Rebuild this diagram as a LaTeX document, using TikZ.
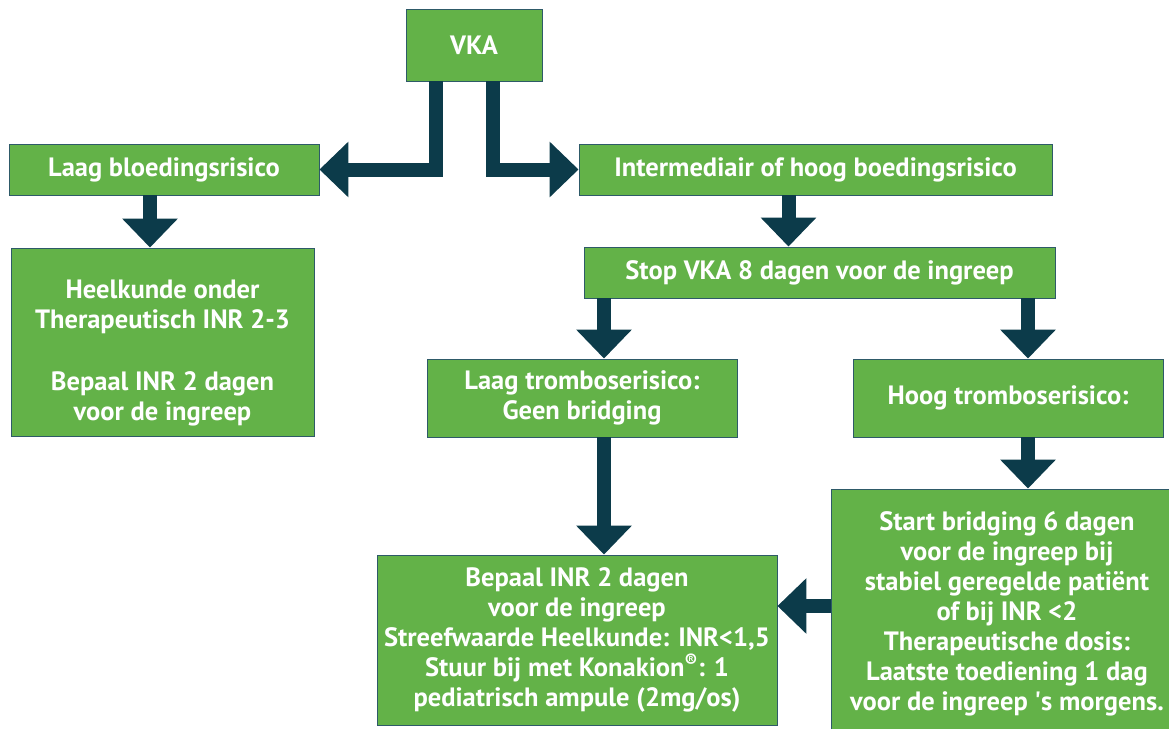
\documentclass[tikz,border=0pt]{standalone}
\usepackage{fontspec}
\setmainfont{PT Sans}
\usetikzlibrary{arrows.meta,positioning,calc}

\definecolor{vakgroen}{RGB}{99,178,72}
\definecolor{randkleur}{RGB}{46,90,104}
\definecolor{pijlkleur}{RGB}{12,59,74}

\begin{document}
\begin{tikzpicture}[x=1pt,y=-1pt,
    vak/.style={draw=randkleur,line width=0.9pt,fill=vakgroen,text=white,
      font=\fontsize{26.5}{30}\selectfont\bfseries,align=center,inner sep=0pt},
    pijl/.style={draw=pijlkleur,line width=14pt,
      -{Triangle[width=54pt,length=29pt]}}]
      \clip (0,0) rectangle (1169,728);
      \useasboundingbox (0,0) rectangle (1169,728);

      \node[vak,minimum width=136pt,minimum height=72pt] (vka) at (474,45) {VKA};
      \node[vak,minimum width=310pt,minimum height=51pt] (laagb) at (164,169.5) {Laag bloedingsrisico};
      \node[vak,minimum width=473pt,minimum height=51pt] (inter) at (815.5,169.5) {Intermediair of hoog boedingsrisico};
      \node[vak,minimum width=471pt,minimum height=51pt] (stop) at (819.5,272.5) {Stop VKA 8 dagen voor de ingreep};
      \node[vak,minimum width=303pt,minimum height=188pt] (heel) at (162.5,342)
        {\rule{0pt}{40pt}Heelkunde onder\\Therapeutisch INR 2-3\\[32pt]Bepaal INR 2 dagen\\voor de ingreep};
      \node[vak,minimum width=310pt,minimum height=78pt] (lt) at (582,398) {Laag tromboserisico:\\Geen bridging};
      \node[vak,minimum width=310pt,minimum height=78pt] (ht) at (1008,398) {Hoog tromboserisico:};
      \node[vak,minimum width=400pt,minimum height=170pt] (bep) at (577,640)
        {Bepaal INR 2 dagen\\voor de ingreep\\Streefwaarde Heelkunde: INR<1,5\\
         Stuur bij met Konakion\textsuperscript{®}: 1\\pediatrisch ampule (2mg/os)};
      \node[vak,minimum width=352pt,minimum height=250pt] (start) at (1007,614)
        {Start bridging 6 dagen\\voor de ingreep bij\\stabiel geregelde patiënt\\of bij INR <2\\
         Therapeutische dosis:\\Laatste toediening 1 dag\\voor de ingreep \textquotesingle s morgens.};

      % splitsing onder VKA
      \draw[pijl] ([xshift=-38pt]vka.south) |- (laagb.east);
      \draw[pijl] ([xshift=19pt]vka.south) |- (inter.west);

      \draw[pijl] ([xshift=-14pt]laagb.south) -- ([xshift=-14pt]laagb.south |- heel.north);
      \draw[pijl] ([xshift=-27pt]inter.south) -- ([xshift=-27pt]inter.south |- stop.north);
      \draw[pijl] ([xshift=22pt]lt.north |- stop.south) -- ([xshift=22pt]lt.north);
      \draw[pijl] ([xshift=20pt]ht.north |- stop.south) -- ([xshift=20pt]ht.north);
      \draw[pijl] ([xshift=22pt]lt.south) -- ([xshift=22pt]lt.south |- bep.north);
      \draw[pijl] ([xshift=20pt]ht.south) -- ([xshift=20pt]ht.south |- start.north);
      \draw[pijl] ([yshift=8pt]start.west) -- ([yshift=8pt]start.west -| bep.east);
    \end{tikzpicture}
\end{document}
